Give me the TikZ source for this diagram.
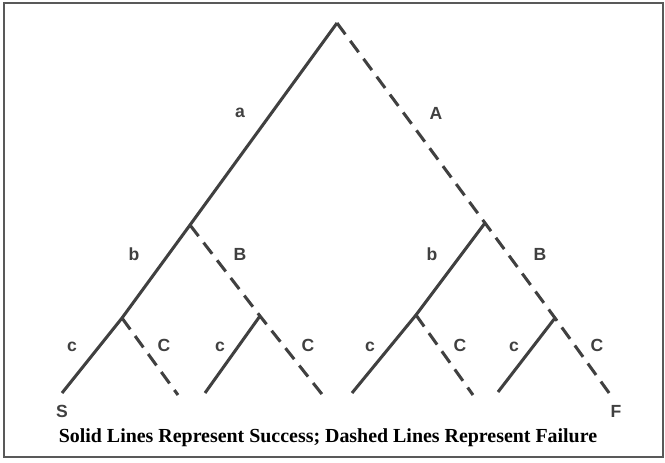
\documentclass[tikz,border=0pt]{standalone}
\usepackage{fontspec}
\setmainfont{Liberation Serif}
\setsansfont{Liberation Sans}
\usepackage{tikz}
\usetikzlibrary{positioning}
\definecolor{treegray}{RGB}{64,64,64}
\tikzset{
    success/.style={line width=2.6pt, treegray},
    failure/.style={line width=2.6pt, treegray, dash pattern=on 12pt off 7pt},
    lbl/.style={font=\sffamily\bfseries\fontsize{15}{15}\selectfont, text=treegray, inner sep=0pt},
    caption/.style={font=\bfseries\fontsize{17}{17}\selectfont, inner sep=0pt}
}
\begin{document}
\begin{tikzpicture}[x=0.03cm, y=-0.03cm]
    % Frame
    \useasboundingbox (0,0) rectangle (665,462);
    \draw[line width=1.2pt, gray!70!black] (4,3) rectangle (663,457);

    % Branch points
    \coordinate (root) at (337,23);
    \coordinate (nb) at (190,225);
    \coordinate (nB) at (485,223);
    \coordinate (nbc) at (122,318);
    \coordinate (nbC) at (260,316);
    \coordinate (nBc) at (416,315);
    \coordinate (nBC) at (555,318);

    % Leaves
    \coordinate (lS) at (62,393);
    \coordinate (l2) at (178,395);
    \coordinate (l3) at (205,393);
    \coordinate (l4) at (325,398);
    \coordinate (l5) at (352,393);
    \coordinate (l6) at (473,395);
    \coordinate (l7) at (498,392);
    \coordinate (lF) at (612,397);

    % Solid lines (success)
    \draw[success] (root) -- (nb) -- (nbc) -- (lS);
    \draw[success] (nbC) -- (l3);
    \draw[success] (nB) -- (nBc) -- (l5);
    \draw[success] (nBC) -- (l7);

    % Dashed lines (failure)
    \draw[failure] (root) -- (nB) -- (nBC) -- (lF);
    \draw[failure] (nb) -- (nbC) -- (l4);
    \draw[failure] (nbc) -- (l2);
    \draw[failure] (nBc) -- (l6);

    % Labels
    \node[lbl] (la) at (240,113) {a};
    \node[lbl] (lA) at (436,113) {A};
    \node[lbl] (lb1) at (134,254) {b};
    \node[lbl] (lB1) at (240,254) {B};
    \node[lbl] (lb2) at (432,254) {b};
    \node[lbl] (lB2) at (540,254) {B};
    \node[lbl] (lc1) at (72,347) {c};
    \node[lbl] (lC1) at (164,345) {C};
    \node[lbl] (lc2) at (220,347) {c};
    \node[lbl] (lC2) at (308,345) {C};
    \node[lbl] (lc3) at (370,347) {c};
    \node[lbl] (lC3) at (460,345) {C};
    \node[lbl] (lc4) at (514,347) {c};
    \node[lbl] (lC4) at (597,345) {C};
    \node[lbl] (tS) at (62,411) {S};
    \node[lbl] (tF) at (616,411) {F};

    % Caption
    \node[caption] (cap) at (328,438) {Solid Lines Represent Success; Dashed Lines Represent Failure};
\end{tikzpicture}
\end{document}
